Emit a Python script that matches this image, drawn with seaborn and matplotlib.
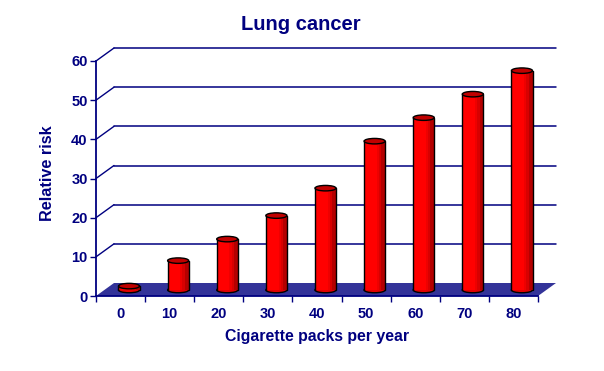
import numpy as np
import pandas as pd
import matplotlib
matplotlib.use("Agg")
import matplotlib.pyplot as plt
import seaborn as sns
from matplotlib.patches import Ellipse, Polygon
from matplotlib.transforms import Affine2D

# values
packs = ["0", "10", "20", "30", "40", "50", "60", "70", "80"]
risk = [1, 7.5, 13, 19, 26, 38, 44, 50, 56]
y_ticks = [0, 10, 20, 30, 40, 50, 60]

NAVY = "#000080"
FLOOR = "#333399"
RED = "#ff0000"
W, H = 604, 371

sns.set_theme(style="white")
plt.rcParams["font.family"] = ["Liberation Sans", "DejaVu Sans"]

fig = plt.figure(figsize=(W / 100, H / 100), dpi=100, facecolor="white")
ax = fig.add_axes([96 / W, 1 - 296 / H, 442 / W, 235 / H])

df = pd.DataFrame({"packs": packs, "risk": risk})
bar_w = 0.43
sns.barplot(data=df, x="packs", y="risk", color=RED, saturation=1, width=bar_w,
            ax=ax, zorder=3, linewidth=0)

# depth of the fake 3d box, in pixels
back = Affine2D().translate(18, 13)
mid = Affine2D().translate(8.5, 6)
to_back = ax.transData + back
to_mid = ax.transData + mid
ell_h = 5.5 / 3.92

for p in ax.patches:
    p.set_transform(to_mid)
    p.set_clip_on(False)

xpos = np.arange(len(packs))
x0, x1 = -0.5, len(packs) - 0.5
ax.set_xlim(x0, x1)
ax.set_ylim(0, 60)

# floor
floor_pts = [ax.transData.transform(p) for p in [(x0, 0), (x1, 0)]]
floor_pts += [to_back.transform((x1, 0)), to_back.transform((x0, 0))]
ax.add_patch(Polygon(floor_pts, closed=True, transform=None, color=FLOOR, lw=0, zorder=1, clip_on=False))

# grid on the back wall and the diagonals on the left side
for t in y_ticks[1:]:
    ax.plot([x0, x1], [t, t], color=NAVY, lw=1.1, transform=to_back, clip_on=False, zorder=2)
    a = ax.transData.transform((x0, t))
    b = to_back.transform((x0, t))
    ax.plot([a[0], b[0]], [a[1], b[1]], color=NAVY, lw=1, transform=None, clip_on=False, zorder=2)

# cylinders: shading, outline, bottom and top caps
shades = [(0.6, "#ee0000"), (0.7, "#d80000"), (0.82, "#b40000")]
for x, v in zip(xpos, risk):
    left = x - bar_w / 2
    ax.add_patch(Ellipse((x, 0), bar_w, ell_h, facecolor="#e00000", edgecolor="black", lw=1,
                         transform=to_mid, zorder=2.5, clip_on=False))
    for frac, col in shades:
        ax.bar(left + bar_w * frac, v, bar_w * (1 - frac), align="edge", color=col, lw=0,
               transform=to_mid, zorder=3.1, clip_on=False)
    ax.plot([left, left], [0, v], color="black", lw=1, transform=to_mid, zorder=3.2, clip_on=False)
    ax.plot([left + bar_w] * 2, [0, v], color="black", lw=1, transform=to_mid, zorder=3.2, clip_on=False)
    ax.add_patch(Ellipse((x, v), bar_w, ell_h, facecolor="#c00000", edgecolor="black", lw=1,
                         transform=to_mid, zorder=3.3, clip_on=False))

# axes
sns.despine(ax=ax, top=True, right=True)
for s in ["left", "bottom"]:
    ax.spines[s].set_color(NAVY)
    ax.spines[s].set_linewidth(1.3)
    ax.spines[s].set_zorder(4)
ax.set_yticks(y_ticks)
ax.set_yticklabels([str(t) for t in y_ticks], color=NAVY, fontsize=10.5, fontweight="bold")
ax.set_xticks(np.arange(len(packs) + 1) - 0.5)
ax.set_xticklabels([])
ax.set_xticks(xpos, labels=packs, minor=True)
ax.tick_params(axis="x", which="major", length=4, width=1, color=NAVY, direction="out", bottom=True)
ax.tick_params(axis="x", which="minor", length=0, pad=8, labelcolor=NAVY, labelsize=10.5, bottom=False)
ax.tick_params(axis="y", length=4, width=1, color=NAVY, direction="out", left=True, pad=2)
for lab in ax.get_xticklabels(minor=True):
    lab.set_fontweight("bold")
ax.set_xlabel("")
ax.set_ylabel("")

fig.text(301 / W, 1 - 24 / H, "Lung cancer", color=NAVY, fontsize=14.5, fontweight="bold", ha="center", va="center")
fig.text(317 / W, 1 - 337 / H, "Cigarette packs per year", color=NAVY, fontsize=11.4, fontweight="bold", ha="center", va="center")
fig.text(47 / W, 1 - 173 / H, "Relative risk", color=NAVY, fontsize=11.7, fontweight="bold", rotation=90, ha="center", va="center")

fig.savefig("out.png", dpi=100, facecolor="white")
